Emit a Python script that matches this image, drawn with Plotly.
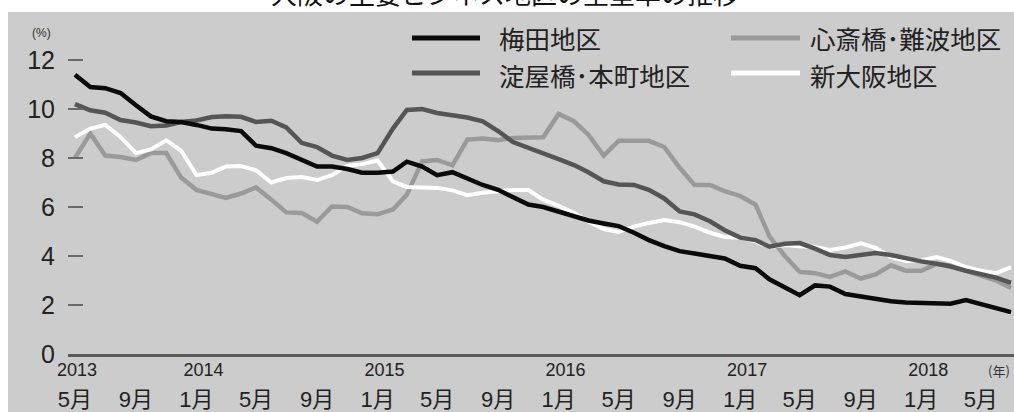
import pandas as pd
import plotly.graph_objects as go

# ---- data (vacancy rate, %), monthly from 2013-05 to 2018-07 ----
start_month = "2013-05-01"
n_months = 63

umeda = [11.4, 10.9, 10.85, 10.65, 10.15, 9.7, 9.5, 9.47, 9.35, 9.2,
         9.17, 9.1, 8.5, 8.4, 8.2, 7.9, 7.65, 7.65, 7.55, 7.4,
         7.4, 7.45, 7.85, 7.65, 7.3, 7.42, 7.15, 6.9, 6.7, 6.4,
         6.1, 6.0, 5.8, 5.6, 5.45, 5.33, 5.22, 4.95, 4.65, 4.4,
         4.2, 4.1, 4.0, 3.9, 3.6, 3.5, 3.05, 2.7, 2.4, 2.8,
         2.75, 2.45, 2.35, 2.25, 2.15, 2.1, 2.08, 2.08, 2.05, 2.2,
         2.05, 1.9, 1.71]

yodoyabashi = [10.2, 9.95, 9.85, 9.55, 9.45, 9.3, 9.33, 9.47, 9.53, 9.67,
               9.7, 9.68, 9.47, 9.52, 9.25, 8.62, 8.45, 8.1, 7.92, 8.0,
               8.2, 9.2, 9.96, 10.0, 9.84, 9.76, 9.65, 9.5, 9.1, 8.65,
               8.4, 8.2, 7.95, 7.71, 7.42, 7.05, 6.92, 6.9, 6.7, 6.35,
               5.82, 5.7, 5.42, 5.05, 4.75, 4.65, 4.38, 4.5, 4.53, 4.3,
               4.04, 3.96, 4.05, 4.12, 4.04, 3.9, 3.78, 3.68, 3.57, 3.4,
               3.25, 3.12, 2.9]

shinsaibashi = [8.0, 9.0, 8.1, 8.04, 7.92, 8.2, 8.2, 7.2, 6.7, 6.55,
                6.37, 6.55, 6.8, 6.3, 5.78, 5.76, 5.4, 6.02, 6.0, 5.74,
                5.7, 5.9, 6.5, 7.86, 7.92, 7.7, 8.75, 8.8, 8.73, 8.82,
                8.85, 8.85, 9.8, 9.5, 8.95, 8.1, 8.7, 8.72, 8.7, 8.45,
                7.6, 6.9, 6.9, 6.65, 6.45, 6.1, 4.8, 4.0, 3.35, 3.3,
                3.15, 3.37, 3.08, 3.25, 3.62, 3.4, 3.4, 3.68, 3.6, 3.4,
                3.2, 3.0, 2.69]

shinosaka = [8.85, 9.2, 9.35, 8.86, 8.2, 8.35, 8.72, 8.3, 7.3, 7.4,
             7.65, 7.67, 7.5, 7.0, 7.18, 7.22, 7.1, 7.3, 7.68, 7.75,
             7.9, 7.05, 6.82, 6.82, 6.78, 6.68, 6.48, 6.58, 6.65, 6.69,
             6.69, 6.3, 6.05, 5.76, 5.4, 5.1, 4.98, 5.2, 5.35, 5.47,
             5.38, 5.2, 4.95, 4.78, 4.75, 4.6, 4.37, 4.45, 4.4, 4.37,
             4.25, 4.35, 4.52, 4.33, 3.95, 3.8, 3.82, 3.96, 3.8, 3.55,
             3.4, 3.3, 3.55]

series_names = ["梅田地区", "心斎橋･難波地区", "淀屋橋･本町地区", "新大阪地区"]

month_tick_dates = ["2013-05-01", "2013-09-01", "2014-01-01", "2014-05-01", "2014-09-01",
                    "2015-01-01", "2015-05-01", "2015-09-01", "2016-01-01", "2016-05-01",
                    "2016-09-01", "2017-01-01", "2017-05-01", "2017-09-01", "2018-01-01",
                    "2018-05-01"]
month_tick_text = ["5月", "9月", "1月", "5月", "9月", "1月", "5月", "9月", "1月", "5月",
                   "9月", "1月", "5月", "9月", "1月", "5月"]
year_tick_dates = ["2013-05-05", "2014-01-15", "2015-01-15", "2016-01-15", "2017-01-15", "2018-01-15"]
year_tick_text = ["2013", "2014", "2015", "2016", "2017", "2018"]
y_ticks = [0, 2, 4, 6, 8, 10, 12]

months = pd.date_range(start_month, periods=n_months, freq="MS")

# ---- geometry helpers (pixel -> paper) ----
W, H = 1014, 412
L, R, T, B = 68, 0, 12, 58
PW, PH = W - L - R, H - T - B


def px(x):
    return (x - L) / PW


def py(y):
    return (H - B - y) / PH


FONT = "Liberation Sans, Arial, Noto Sans CJK JP, sans-serif"
JFONT = "Noto Sans CJK JP, sans-serif"
BG = "#cccccc"

C_UMEDA = "#0a0a0a"
C_YODO = "#555555"
C_SHIN = "#9a9a9a"
C_SHINOSAKA = "#ffffff"

fig = go.Figure()
# draw order: light gray, white, dark gray, black on top
fig.add_trace(go.Scatter(x=months, y=shinsaibashi, mode="lines", name=series_names[1],
                         line=dict(color=C_SHIN, width=4.5), showlegend=False))
fig.add_trace(go.Scatter(x=months, y=shinosaka, mode="lines", name=series_names[3],
                         line=dict(color=C_SHINOSAKA, width=4), showlegend=False))
fig.add_trace(go.Scatter(x=months, y=yodoyabashi, mode="lines", name=series_names[2],
                         line=dict(color=C_YODO, width=4.5), showlegend=False))
fig.add_trace(go.Scatter(x=months, y=umeda, mode="lines", name=series_names[0],
                         line=dict(color=C_UMEDA, width=4.5), showlegend=False))
# invisible helper trace so the year axis (x2) is rendered
fig.add_trace(go.Scatter(x=months, y=umeda, mode="lines", xaxis="x2", yaxis="y",
                         line=dict(width=0), opacity=0, hoverinfo="skip", showlegend=False))

shapes = [
    dict(type="rect", xref="paper", yref="paper", x0=px(8), x1=px(1014), y0=py(412), y1=py(12),
         fillcolor=BG, line=dict(width=0), layer="below"),
]
annotations = []

# manual legend (two columns, two rows): name, colour, sample x0, x1, sample y, text x, text y
legend_items = [
    (series_names[0], C_UMEDA, 412, 480, 38, 498, 37.5),
    (series_names[1], C_SHIN, 731, 800, 38, 809, 37.5),
    (series_names[2], C_YODO, 412, 480, 73, 498, 74.5),
    (series_names[3], C_SHINOSAKA, 731, 800, 73, 809, 74.5),
]
for name, color, lx0, lx1, ly, tx, ty in legend_items:
    shapes.append(dict(type="line", xref="paper", yref="paper", x0=px(lx0), x1=px(lx1),
                       y0=py(ly), y1=py(ly), line=dict(color=color, width=5)))
    annotations.append(dict(text=name, xref="paper", yref="paper", x=px(tx), y=py(ty),
                            xanchor="left", yanchor="middle", showarrow=False, borderpad=0,
                            font=dict(family=JFONT, size=25.5, color="#222222")))

annotations.append(dict(text="(%)", xref="paper", yref="paper", x=px(41), y=py(33),
                        xanchor="center", yanchor="middle", showarrow=False,
                        font=dict(family=FONT, size=12, color="#333333")))
annotations.append(dict(text="(年)", xref="paper", yref="paper", x=px(999), y=py(370),
                        xanchor="center", yanchor="middle", showarrow=False,
                        font=dict(family=JFONT, size=13, color="#333333")))
annotations.append(dict(text="大阪の主要ビジネス地区の空室率の推移", xref="paper", yref="paper",
                        x=px(505), y=py(-7), xanchor="center", yanchor="middle", showarrow=False,
                        font=dict(family=JFONT, size=26, color="#111111")))

x_range = ["2013-04-17", "2018-07-07"]

fig.update_layout(
    width=W, height=H,
    margin=dict(l=L, r=R, t=T, b=B),
    paper_bgcolor="white",
    plot_bgcolor=BG,
    showlegend=False,
    shapes=shapes,
    annotations=annotations,
    xaxis=dict(type="date", range=x_range, tickmode="array", tickvals=month_tick_dates,
               ticktext=month_tick_text, showgrid=False, zeroline=False,
               showline=True, linecolor="#5a5a5a", linewidth=3, ticks="",
               ticklabelstandoff=24,
               tickfont=dict(family=FONT, size=22, color="#222222")),
    xaxis2=dict(type="date", range=x_range, overlaying="x", anchor="y", side="bottom",
                tickmode="array", tickvals=year_tick_dates, ticktext=year_tick_text,
                showgrid=False, zeroline=False, showline=False, ticks="",
                ticklabelstandoff=3,
                tickfont=dict(family=FONT, size=18, color="#222222")),
    yaxis=dict(range=[0, PH / 24.5], tickmode="array", tickvals=y_ticks,
               showgrid=False, zeroline=False, showline=False,
               ticks="inside", ticklen=15, tickwidth=2, tickcolor="#6a6a6a",
               ticklabelstandoff=12,
               tickfont=dict(family=FONT, size=25, color="#222222")),
)

fig.write_html("out.html", config={"displayModeBar": False},
               post_script="document.body.style.margin='0';")
